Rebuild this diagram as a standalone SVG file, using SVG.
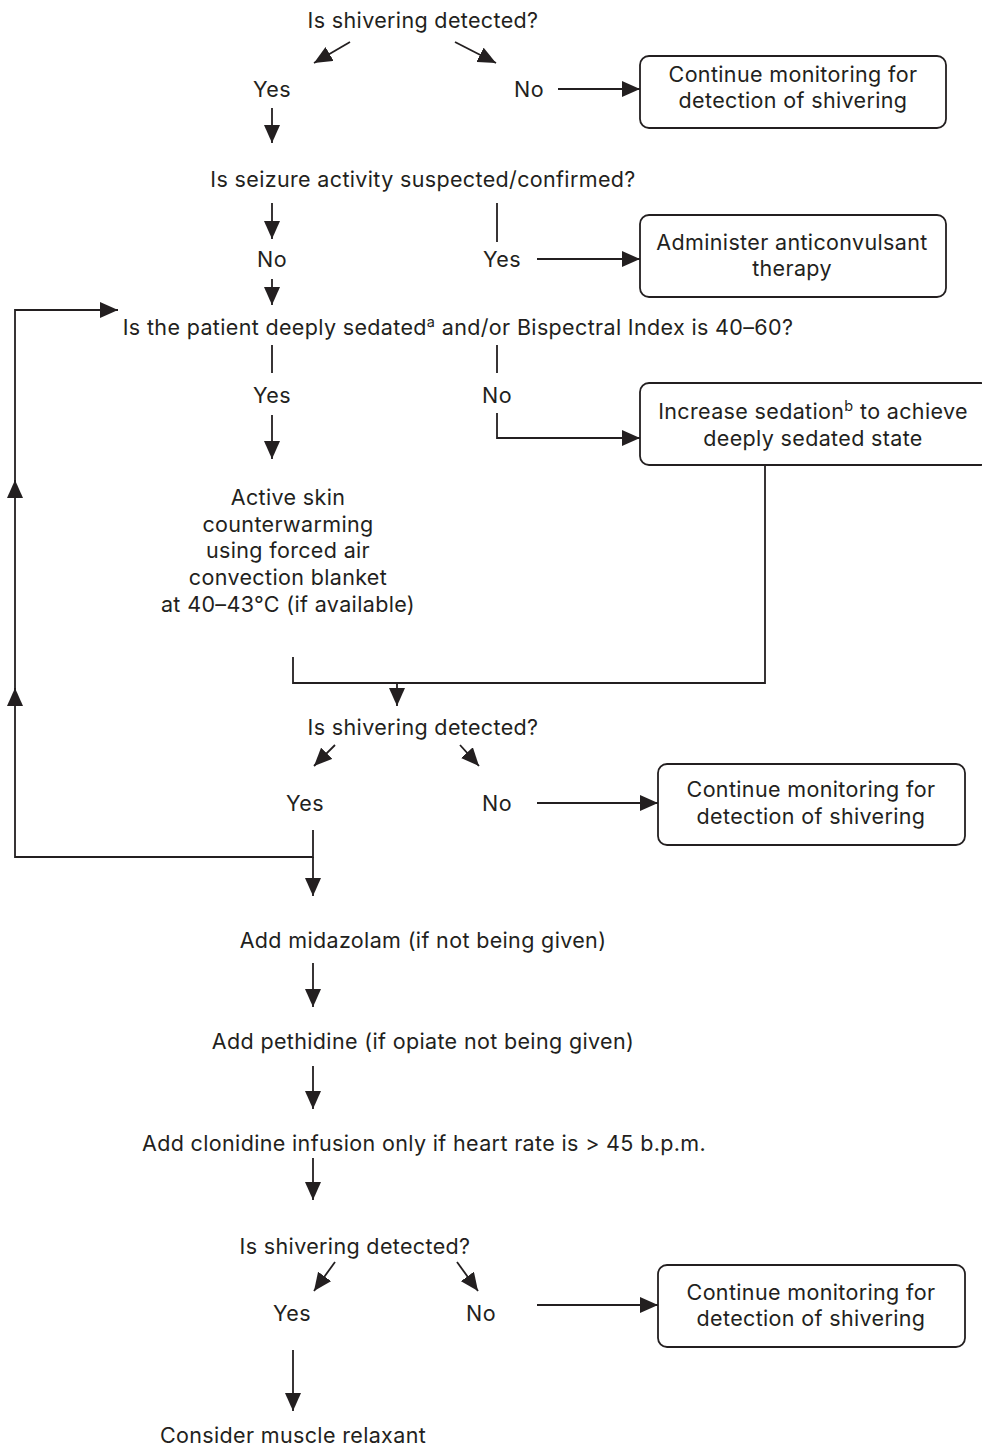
<svg xmlns="http://www.w3.org/2000/svg" width="982" height="1448" viewBox="0 0 982 1448">
<defs>
<marker id="ah" viewBox="0 0 18 16" refX="18" refY="8" markerWidth="18" markerHeight="16" markerUnits="userSpaceOnUse" orient="auto">
<path d="M0,0 L18,8 L0,16 Z" fill="#231f20"/>
</marker>
<style>
text{font-family:Inter,"Open Sans",sans-serif;font-size:21.5px;letter-spacing:0.35px;fill:#231f20;text-anchor:middle}
.box{fill:#fff;stroke:#231f20;stroke-width:1.8}
.c line,.c polyline{stroke:#231f20;stroke-width:1.8;fill:none}
.a{marker-end:url(#ah)}
</style>
</defs>
<rect width="982" height="1448" fill="#fff"/>
<g class="c" id="connectors">
<line class="a" x1="350" y1="42" x2="314" y2="63"/>
<line class="a" x1="455" y1="42" x2="496" y2="63"/>
<line class="a" x1="558" y1="89" x2="640" y2="89"/>
<line class="a" x1="272" y1="108" x2="272" y2="143"/>
<line class="a" x1="272" y1="203" x2="272" y2="239"/>
<line x1="497" y1="203" x2="497" y2="242"/>
<line class="a" x1="537" y1="259" x2="640" y2="259"/>
<line class="a" x1="272" y1="279" x2="272" y2="305"/>
<polyline class="a" points="313,830 313,857 15,857 15,480"/>
<line class="a" x1="15" y1="700" x2="15" y2="688"/>
<polyline class="a" points="15,490 15,310 118,310"/>
<line x1="272" y1="345" x2="272" y2="373"/>
<line x1="497" y1="345" x2="497" y2="373"/>
<line class="a" x1="272" y1="415" x2="272" y2="459"/>
<polyline class="a" points="497,413 497,438 640,438"/>
<polyline points="765,465 765,683 293,683 293,657"/>
<line class="a" x1="397" y1="683" x2="397" y2="706"/>
<line class="a" x1="335" y1="745" x2="314" y2="766"/>
<line class="a" x1="460" y1="745" x2="479" y2="766"/>
<line class="a" x1="537" y1="803" x2="658" y2="803"/>
<line class="a" x1="313" y1="857" x2="313" y2="896"/>
<line class="a" x1="313" y1="963" x2="313" y2="1007"/>
<line class="a" x1="313" y1="1066" x2="313" y2="1109"/>
<line class="a" x1="313" y1="1158" x2="313" y2="1200"/>
<line class="a" x1="335" y1="1262" x2="314" y2="1291"/>
<line class="a" x1="457" y1="1262" x2="478" y2="1291"/>
<line class="a" x1="537" y1="1305" x2="658" y2="1305"/>
<line class="a" x1="293" y1="1350" x2="293" y2="1411"/>
</g>
<g id="q1"><text x="423" y="28">Is shivering detected?</text></g>
<g id="yes1"><text x="272" y="97">Yes</text></g>
<g id="no1"><text x="529" y="97">No</text></g>
<g id="box1"><rect class="box" x="640" y="56" width="306" height="72" rx="9"/><text x="793" y="82">Continue monitoring for</text><text x="793" y="108">detection of shivering</text></g>
<g id="q2"><text x="423" y="187">Is seizure activity suspected/confirmed?</text></g>
<g id="no2"><text x="272" y="267">No</text></g>
<g id="yes2"><text x="502" y="267">Yes</text></g>
<g id="box2"><rect class="box" x="640" y="215" width="306" height="82" rx="9"/><text x="792" y="250">Administer anticonvulsant</text><text x="792" y="276">therapy</text></g>
<g id="q3"><text x="458" y="335">Is the patient deeply sedated<tspan dy="-8" font-size="14.5">a</tspan><tspan dy="8"> and/or Bispectral Index is 40–60?</tspan></text></g>
<g id="yes3"><text x="272" y="403">Yes</text></g>
<g id="no3"><text x="497" y="403">No</text></g>
<g id="box3"><rect class="box" x="640" y="383" width="350" height="82" rx="9"/><text x="813" y="419">Increase sedation<tspan dy="-8" font-size="14.5">b</tspan><tspan dy="8"> to achieve</tspan></text><text x="813" y="446">deeply sedated state</text></g>
<g id="warm"><text x="288" y="505">Active skin</text><text x="288" y="532">counterwarming</text><text x="288" y="558">using forced air</text><text x="288" y="585">convection blanket</text><text x="288" y="612">at 40–43°C (if available)</text></g>
<g id="q4"><text x="423" y="735">Is shivering detected?</text></g>
<g id="yes4"><text x="305" y="811">Yes</text></g>
<g id="no4"><text x="497" y="811">No</text></g>
<g id="box4"><rect class="box" x="658" y="764" width="307" height="81" rx="9"/><text x="811" y="797">Continue monitoring for</text><text x="811" y="824">detection of shivering</text></g>
<g id="mid"><text x="423" y="948">Add midazolam (if not being given)</text></g>
<g id="peth"><text x="423" y="1049">Add pethidine (if opiate not being given)</text></g>
<g id="clon"><text x="424" y="1151">Add clonidine infusion only if heart rate is &gt; 45 b.p.m.</text></g>
<g id="q5"><text x="355" y="1254">Is shivering detected?</text></g>
<g id="yes5"><text x="292" y="1321">Yes</text></g>
<g id="no5"><text x="481" y="1321">No</text></g>
<g id="box5"><rect class="box" x="658" y="1265" width="307" height="82" rx="9"/><text x="811" y="1300">Continue monitoring for</text><text x="811" y="1326">detection of shivering</text></g>
<g id="relax"><text x="293" y="1443">Consider muscle relaxant</text></g>
</svg>
